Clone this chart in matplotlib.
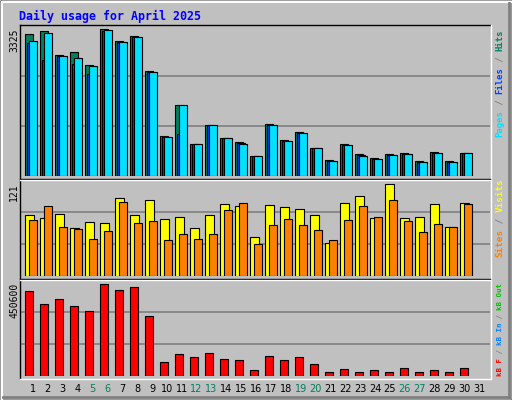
import numpy as np
import matplotlib.pyplot as plt
from matplotlib.lines import Line2D

days = np.arange(1, 32)
hits = [3205, 3270, 2730, 2798, 2504, 3325, 3047, 3160, 2375, 898, 1600, 717, 1147, 853, 762,
        452, 1170, 807, 988, 626, 355, 717, 490, 400, 490, 513, 332, 536, 332, 513, 0]
files = [3001, 2617, 2715, 2526, 2300, 3280, 3030, 3150, 2355, 890, 943, 717, 1147, 853, 740,
         452, 1160, 795, 975, 626, 340, 705, 470, 390, 480, 500, 320, 525, 320, 513, 0]
pages = [3047, 3228, 2707, 2662, 2481, 3295, 3025, 3137, 2345, 875, 1600, 717, 1147, 853, 717,
         452, 1147, 784, 965, 626, 332, 694, 445, 377, 468, 490, 309, 513, 309, 513, 0]
visits = [80.2, 76.7, 81.5, 63.1, 71, 69.7, 102.6, 80.2, 100, 75, 77.6, 63.1, 80.2, 94.7, 92,
          51.3, 93.4, 90.8, 88.1, 80.2, 43.4, 96, 105.2, 76.3, 121, 76.3, 77.6, 94.7, 64.4, 96, 0]
sites = [73.7, 92, 64.4, 61.8, 48.7, 59.2, 97.3, 69.7, 72.3, 47.3, 55.2, 48.7, 55.2, 86.8, 96,
         42.1, 67.1, 75, 67.1, 60.5, 47.3, 73.7, 92, 77.6, 100, 72.3, 57.9, 68.4, 64.4, 94.7, 0]
kbytes = [416000, 352000, 376600, 342000, 317400, 450600, 421000, 435800, 292700, 65800, 105200,
          90400, 110200, 80600, 75600, 26300, 95400, 75600, 90400, 55900, 16400, 31200, 16400,
          26300, 16400, 36200, 16400, 26300, 16400, 36200, 0]
weekend = [5, 6, 12, 13, 19, 20, 26, 27]

W, H = 512, 400
BG = '#C0C0C0'
GREEN = '#00805C'
mono = 'DejaVu Sans Mono'

fig = plt.figure(figsize=(W / 100, H / 100), dpi=100, facecolor=BG)


def fx(px):
    return px / W


def fy(py):
    return 1 - py / H


def panel(top, base, ymax_val, peak_px):
    ymax = ymax_val * (base - top) / (base - peak_px)
    ax = fig.add_axes([fx(20), fy(base), fx(470), (base - top) / H])
    ax.set_facecolor(BG)
    ax.set_xlim(0, 470)
    ax.set_ylim(0, ymax)
    for k in (1, 2):
        ax.axhline(ymax * k / 3, color='#808080', lw=1.2, zorder=0)
    ax.axis('off')
    return ax


x0 = (days - 1) * 15.0
kw = dict(align='edge', edgecolor='black', linewidth=0.8)

ax1 = panel(26, 176, 3325, 29)
ax1.bar(x0 + 5, [h if h else np.nan for h in hits], 7.5, color=GREEN, **kw)
ax1.bar(x0 + 7, [f if f else np.nan for f in files], 7.5, color='#0040FF', **kw)
ax1.bar(x0 + 9.2, [p if p else np.nan for p in pages], 7.5, color='#00E0FF', **kw)

ax2 = panel(180, 276.3, 121, 184.3)
ax2.bar(x0 + 5.3, [v if v else np.nan for v in visits], 8.3, color='#FFFF00', **kw)
ax2.bar(x0 + 9.3, [s if s else np.nan for s in sites], 7.4, color='#FF8000', **kw)

ax3 = panel(280.5, 375.7, 450600, 284.3)
ax3.bar(x0 + 5.3, [k if k else np.nan for k in kbytes], 7.4, color='#FF0000', **kw)


def line(xs, ys, c, lw=1.0):
    fig.add_artist(Line2D([fx(x) for x in xs], [fy(y) for y in ys], color=c, lw=lw,
                          transform=fig.transFigure))


# outer bevel
line([0.5, 511.5, 511.5, 0.5, 0.5], [0.5, 0.5, 399.5, 399.5, 0.5], 'black')
line([1.5, 510.5], [1.5, 1.5], 'white', 1.5)
line([1.5, 1.5], [1.5, 398.5], 'white', 1.5)
line([3, 509], [396.5, 396.5], '#808080', 2)
line([508.5, 508.5], [3, 396.5], '#808080', 2)
# plot frame
line([20, 490], [25, 25], 'black')
line([20, 20], [25, 378], 'black')
line([20, 491], [378.5, 378.5], 'white')
line([490.5, 490.5], [25, 378.5], 'white')
for y in (178.5, 279):
    line([20, 490], [y, y], 'black')
    line([20, 490], [y + 1, y + 1], 'white')

fig.text(fx(19), fy(16), 'Daily usage for April 2025', color='#0000FF', family=mono,
         fontweight='bold', fontsize=8.4, va='center', ha='left')

for lab, py in (('3325', 28), ('121', 183), ('450600', 283)):
    fig.text(fx(14), fy(py), lab, rotation=90, ha='center', va='top', family=mono,
             fontsize=7, color='black')

for d in days:
    c = GREEN if d in weekend else 'black'
    fig.text(fx(20 + 13 + (d - 1) * 14.87), fy(389), str(d), ha='center', va='center',
             fontsize=7, color=c)


def legend(pieces, base_py, fs):
    step = 0.836 * fs
    pos = base_py
    for txt, c in pieces:
        fig.text(fx(500), fy(pos), txt, rotation=90, ha='center', va='bottom', family=mono,
                 fontsize=fs, color=c, fontweight='bold')
        pos -= step * len(txt)


sep = '#808080'
legend([('Pages', '#00E0FF'), (' / ', sep), ('Files', '#0040FF'), (' / ', sep),
        ('Hits', GREEN)], 137, 6.4)
legend([('Sites', '#FF8000'), (' / ', sep), ('Visits', '#FFFF00')], 257, 6.7)
legend([('kB F', '#FF0000'), (' / ', sep), ('kB In', '#0080FF'), (' / ', sep),
        ('kB Out', '#00C000')], 376, 5.3)

fig.savefig('out.png', dpi=100, facecolor=BG)
